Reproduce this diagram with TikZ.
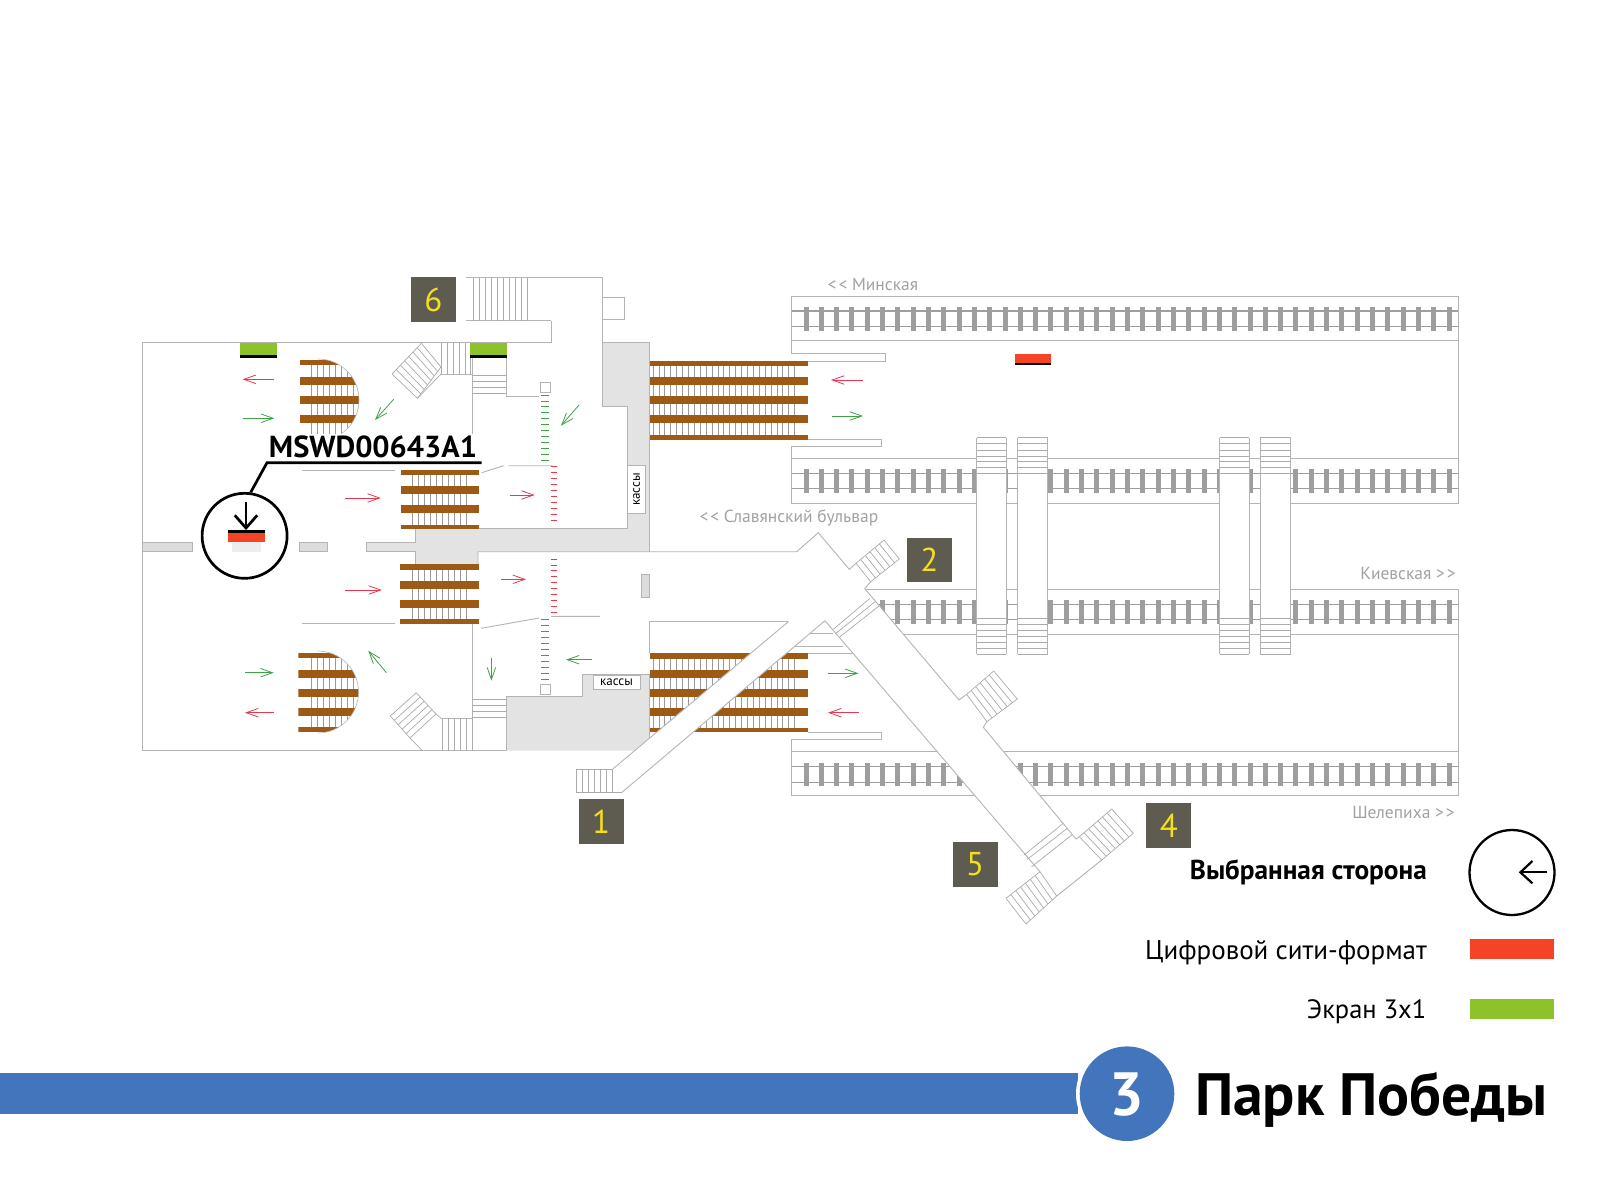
\documentclass[tikz,border=0pt]{standalone}
\usepackage{fontspec}
\setmainfont{PT Sans}
\usetikzlibrary{arrows.meta,calc}
\definecolor{wallc}{HTML}{B4B4B4}
\definecolor{stepc}{HTML}{ABABAB}
\definecolor{greyfill}{HTML}{E3E3E3}
\definecolor{blockc}{HTML}{DCDCDC}
\definecolor{railc}{HTML}{9E9E9E}
\definecolor{brownc}{HTML}{9C5A14}
\definecolor{boxc}{HTML}{5E5C50}
\definecolor{digitc}{HTML}{F4DF1E}
\definecolor{redc}{HTML}{F44327}
\definecolor{greenc}{HTML}{8DC22A}
\definecolor{arrred}{HTML}{E8384F}
\definecolor{arrgreen}{HTML}{3FA24A}
\definecolor{linec}{HTML}{4375BC}
\definecolor{labelc}{HTML}{A2A2A2}
\newcommand{\fsz}[1]{\fontsize{#1pt}{#1pt}\selectfont}
\newcommand{\lla}{<\kern2pt<}
\newcommand{\rra}{>\kern2pt>}
\tikzset{
  wall/.style={draw=wallc,line width=0.9pt},
  stepline/.style={draw=stepc,line width=0.7pt},
  tie/.style={fill=railc,draw=none},
  rail/.style={draw=railc,line width=1.3pt},
  brownbar/.style={fill=brownc,draw=none},
  redarr/.style={draw=arrred,line width=0.8pt,-{Straight Barb[length=12pt,width=8.5pt,line width=0.8pt]}},
  greenarr/.style={draw=arrgreen,line width=0.8pt,-{Straight Barb[length=12pt,width=8.5pt,line width=0.8pt]}},
  exitbox/.style={fill=boxc,draw=none,minimum width=45pt,minimum height=44.5pt,inner sep=0pt,text=digitc,font=\fsz{33}},
  graylabel/.style={text=labelc,inner sep=0pt,font=\fsz{17.5}},
  blackline/.style={draw=black,line width=2.7pt},
  cashbox/.style={fill=white,draw=wallc,line width=0.7pt,inner sep=0pt,font=\fsz{13}},
}
% bars: x1,x2,vx1,vx2,spacing, list of y1/y2 ; verticals y-range
\newcommand{\escal}[8]{%
  \foreach \vx in {#3,#5,...,#4} \draw[stepline,draw=stepc!90!black] (\vx,#6) -- (\vx,#7);
  \foreach \ya/\yb in {#8} \fill[brownbar] (#1,\ya) rectangle (#2,\yb);
}
\newcommand{\track}[1]{%
  \pgfmathsetmacro{\ra}{#1+15}\pgfmathsetmacro{\rb}{#1+30.5}%
  \pgfmathsetmacro{\sa}{#1+11}\pgfmathsetmacro{\sb}{#1+34.5}%
  \foreach \k in {0,...,42} {
    \pgfmathsetmacro{\xa}{806+15.31*\k-2.5}\pgfmathsetmacro{\xb}{\xa+5}
    \fill[tie] (\xa,\sa) rectangle (\xb,\sb);
  }
  \draw[rail] (792,\ra) -- (1458,\ra) (792,\rb) -- (1458,\rb);
}
% quadrilateral stair: lines from side A-B to side D-C
\newcommand{\qstair}[5]{%
  \foreach \i in {0,...,#5} {
    \pgfmathsetmacro{\t}{\i/#5}
    \draw[stepline] ($#1!\t!#2$) -- ($#4!\t!#3$);
  }
  \draw[stepline] #1 -- #2 #4 -- #3;
}
\newcommand{\bridge}[2]{%
  \fill[white] (#1,437.7) rectangle (#2,654.3);
  \draw[wall,line width=0.8pt] (#1,437.7) -- (#1,654.3) (#2,437.7) -- (#2,654.3);
  \foreach \y in {437.7,443.7,450,456.7,461.7,467.3,473.3,618.3,624.3,630,636.7,642.3,648.3,654.3}
    \draw[stepline] (#1,\y) -- (#2,\y);
}
\begin{document}
\begin{tikzpicture}[x=1pt,y=-1pt]
\useasboundingbox (0,0) rectangle (1600,1200);
\fill[white] (0,0) rectangle (1600,1200);

% ---- tracks
\track{296}
\track{458.3}
\track{589.3}
\fill[white] (785,585) rectangle (864,640);
\track{751.7}
\draw[wall] (806,361) -- (885.2,361) -- (885.2,353.3) -- (791.6,353.3) -- (791.6,296) -- (1458,296) -- (1458,503.3) -- (791.6,503.3) -- (791.6,446.7) -- (881.9,446.7) -- (881.9,439.3) -- (806,439.3);
\draw[wall] (791.6,340.3) -- (1458,340.3) (791.6,458.3) -- (1458,458.3);
\draw[wall] (865,589.3) -- (1458,589.3) -- (1458,795.7) -- (791.7,795.7) -- (791.7,739.3) -- (881.7,739.3) -- (881.7,732.3) -- (808,732.3);
\draw[wall] (865,634) -- (1458,634) (791.7,751.7) -- (1458,751.7);

% ---- bridges over tracks
\bridge{976.5}{1006.4}
\bridge{1017.8}{1047.8}
\bridge{1219.5}{1249.2}
\bridge{1260.4}{1290.5}

% ---- grey floor
\fill[greyfill] (602.6,342.7) -- (649.6,342.7) -- (649.6,551.7) -- (478,551.7) -- (478,565) -- (415,565) -- (415,551.7) -- (366.6,551.7) -- (366.6,542.3) -- (415,542.3) -- (415,528.3) -- (627,528.3) -- (627,406.7) -- (602.6,406.7) -- cycle;
\fill[greyfill] (506,696.7) -- (582,696.7) -- (582,674) -- (649.6,674) -- (649.6,738) -- (633.7,750.7) -- (506,750.7) -- cycle;
\draw[wall] (602.6,342.7) -- (649.6,342.7) -- (649.6,551.7);
\draw[wall] (366.6,551.7) -- (415,551.7) -- (415,565);
\draw[wall] (366.6,551.7) -- (366.6,542.3) -- (415,542.3) -- (415,528.3) -- (627,528.3) -- (627,406.7) -- (602.6,406.7);
\draw[wall] (478,565) -- (478,551.7) -- (796.7,551.7) -- (818.3,532.7) -- (849.3,569.3) -- (856,563.3);
\draw[wall] (870.7,581.7) -- (865,588.3);

% ---- station walls
\draw[wall] (551,320.7) -- (466,320.7);
\draw[wall] (466,277.7) -- (602.6,277.7) -- (602.6,406.7);
\draw[wall] (142,751) -- (142,342.7) -- (551,342.7) -- (551,320.7);
\draw[wall] (142,750.7) -- (506,750.7) -- (506,696.7) -- (582,696.7) -- (582,674) -- (649.6,674) -- (649.6,738);
\draw[wall] (602.6,297) rectangle (624.6,319.3);
\draw[wall] (472,357) -- (472,458);
\draw[wall] (472,624) -- (472,750.7);
\draw[wall] (506,357) -- (506,396) -- (539,396);
\draw[wall] (441,374) -- (472,374);
\draw[wall] (441,718.3) -- (472,718.3);
\draw[wall] (649.3,653) -- (649.3,621.7) -- (788.3,621.7);
\draw[wall] (301.7,470) -- (395.4,470) (301.7,623.7) -- (395.4,623.7);
\draw[wall] (481.6,472.7) -- (503.6,465.7) (508.6,465.7) -- (552.6,465.7);
\draw[wall] (481,628.3) -- (539,618) (551,616.3) -- (600,616.3);
% blocks
\foreach \xa/\xb in {142/192.5,299.7/327.8} \draw[wall,fill=blockc] (\xa,542.3) rectangle (\xb,551.7);
\draw[wall,fill=blockc] (641.8,574) rectangle (649.6,597.7);

% ---- platform lines under the junction
\draw[wall] (810,633.3) -- (833.3,633.3) (795,646.7) -- (843,646.7) (808,653.3) -- (852.7,653.3);

% ---- escalators
\escal{649.6}{808}{653}{796}{658.9}{361}{440}{361/366,376.7/384.7,396/404,415.3/423.3,435/440}
\escal{649.6}{808.3}{653}{797}{658.9}{654}{732}{653.3/658.7,670/678,689.3/696.7,708.3/716,727.7/732.3}
\escal{401}{478.5}{412}{466.4}{418}{470}{529}{470/474.7,486/494,505.3/513.3,524.7/529.3}
\escal{400.4}{478.5}{412}{466.4}{418}{565}{624}{564.3/569.7,580.7/589,600/608,619.3/624.3}

% semicircular escalators
\begin{scope}
\clip (318,359) arc[start angle=90,end angle=-90,radius=41pt] -- (300,441) -- (300,359) -- cycle;
\escal{300}{360}{311}{359}{317}{360}{440}{360/365.3,376.7/384.7,396/404,415.3/423.3,434/439}
\end{scope}
\draw[wall,line width=0.6pt] (318,359) arc[start angle=90,end angle=-90,radius=41pt];
\begin{scope}
\clip (317.5,651) arc[start angle=90,end angle=-90,radius=41pt] -- (298.4,733) -- (298.4,651) -- cycle;
\escal{298.4}{360}{311}{359}{317}{654}{732}{653.3/658.3,670/677.7,688.7/696.7,708/716,727.3/732}
\end{scope}
\draw[wall,line width=0.6pt] (317.5,651) arc[start angle=90,end angle=-90,radius=41pt];

% ---- stairs (orthogonal)
\foreach \x in {473,479,485,491,497,503,509,515,521,527} \draw[stepline] (\x,277.7) -- (\x,320.7);
\foreach \x in {441,447,453,459,465,470} \draw[stepline] (\x,343) -- (\x,374);
\foreach \x in {442,448,454,460,466,472} \draw[stepline] (\x,718.3) -- (\x,750.7);
\foreach \y in {375,381,387,393.3} \draw[stepline] (472,\y) -- (506,\y);
\foreach \y in {699.3,705,711.7,717.3} \draw[stepline] (472,\y) -- (506,\y);
\draw[wall] (506,696.7) -- (506,750.7);

% diagonal stairs by the west hall
\qstair{(392,374)}{(421.4,343.3)}{(441,367)}{(417.4,398.3)}{7}
\draw[stepline] (417.4,398.3) -- (441,374);
\qstair{(390.3,716)}{(410,738)}{(436,714)}{(416.3,692.7)}{5}
\draw[stepline] (410,738) -- (422.4,750.7) (436,714) -- (441,718.3);

% ---- diagonal corridors
\fill[white] (612.8,769) -- (788.3,621.7) -- (825,620.7) -- (622,792.3) -- cycle;
\draw[wall] (612.8,769) -- (788.3,621.7) (825,620.7) -- (622,792.3);
\foreach \x in {576,582,588,594,600,606,612.8} \draw[stepline] (\x,769) -- (\x,792.3);
\draw[stepline] (576,769) -- (612.8,769) (576,792.3) -- (622,792.3);

\fill[white] (864.5,588.3) -- (959,700) -- (966.6,694.3) -- (987,721.7) -- (983.3,727.3) -- (1076,839) -- (1079.3,836.7) -- (1101.7,860) -- (1056.7,896) -- (1040,871.7) -- (825,620.7) -- cycle;
\draw[wall] (825,620.7) -- (1040,871.7);
\draw[wall] (864.5,588.3) -- (959,700) -- (966.6,694.3);
\draw[wall] (987,721.7) -- (983.3,727.3) -- (1076,839) -- (1079.3,836.7);
\draw[wall] (1101.7,860) -- (1056.7,896);
\draw[stepline] (870,598.3) -- (833.3,629.3) (875,601.7) -- (836,633.3) (879,606) -- (840,636.7);
\draw[stepline] (1024,855) -- (1063.3,823.3) (1027.3,859.3) -- (1067.3,828.3) (1031.7,866.7) -- (1071.7,835);
\qstair{(856,563.3)}{(884,540)}{(899.3,559)}{(870.7,581.7)}{6}
\qstair{(966.6,694.3)}{(993.7,671)}{(1017.3,699)}{(987,721.7)}{6}
\qstair{(1079.3,836.7)}{(1111.7,809)}{(1133.3,833.3)}{(1101.7,860)}{7}
\qstair{(1040,871.7)}{(1006,898.3)}{(1026,924)}{(1056.7,896)}{7}

% ---- dashes (turnstiles) and squares
\foreach \i in {0,...,11} \draw[arrgreen,line width=0.8pt] (541,395+\i*5.9) -- (549,395+\i*5.9);
\foreach \i in {0,...,9} \draw[arrred,line width=0.8pt] (550.5,466.7+\i*6) -- (557.3,466.7+\i*6);
\foreach \i in {0,...,9} \draw[arrred,line width=0.8pt] (550.5,559+\i*5.92) -- (557.3,559+\i*5.92);
\foreach \i in {0,...,10} \draw[arrgreen,line width=0.8pt] (541,619.3+\i*5.97) -- (549,619.3+\i*5.97);
\draw[wall] (540.4,382) rectangle (550,392) (540.4,684.3) rectangle (550,694);

% ---- ads
\foreach \xa in {239.9,470} {
  \fill[greenc] (\xa,343.3) rectangle (\xa+37,355);
  \fill[black] (\xa,355) rectangle (\xa+37,357.7);
}
\fill[redc] (1014.7,354) rectangle (1051.2,362.7);
\fill[black] (1014.7,362.7) rectangle (1051.2,365.3);

% ---- walking arrows
\draw[redarr] (274.4,379.3) -- (242.6,379.3);
\draw[greenarr] (242.6,418.3) -- (274.4,418.3);
\draw[greenarr] (393.7,399.3) -- (375,420);
\draw[greenarr] (579,405) -- (561,425.7);
\draw[redarr] (344.7,498) -- (380.8,498);
\draw[redarr] (510.3,495) -- (534.7,495);
\draw[greenarr] (245,672.7) -- (273.7,672.7);
\draw[redarr] (273.7,712.7) -- (245,712.7);
\draw[redarr] (344.7,590) -- (381.9,590);
\draw[redarr] (501,579.3) -- (526,579.3);
\draw[greenarr] (386.3,672.7) -- (368.3,650.7);
\draw[greenarr] (491.4,658.3) -- (491.4,680.7);
\draw[greenarr] (592,659.7) -- (566,659.7);
\draw[redarr] (863,380) -- (831,380);
\draw[greenarr] (832,416) -- (863,416);
\draw[greenarr] (828,673.3) -- (858.5,673.3);
\draw[redarr] (858.5,712.7) -- (828,712.7);

% ---- kassy
\node[cashbox,minimum width=47.6pt,minimum height=18pt,rotate=90] (kassa1) at (636.6,489.5) {кассы};
\node[cashbox,minimum width=47pt,minimum height=14.3pt] (kassa2) at (616.5,682) {кассы};

% ---- selected side marker
\node[fill=white,inner sep=0pt,minimum width=206pt,minimum height=26pt,text=black,font=\bfseries\fsz{30.4}] (code) at (373,446.5) {MSWD00643A1};
\draw[blackline] (481.6,462.7) -- (267,462.7) -- (250.7,492.3);
\coordinate (mk) at (244.6,535.8);
\draw[blackline] (mk) circle[radius=42.5pt];
\fill[black] (228,530) rectangle (264.5,532.7);
\fill[redc] (228,532.7) rectangle (264.5,541.7);
\fill[black!7] (232.4,541.7) rectangle (260.5,551.7);
\draw[blackline] (246,501.7) -- (246,528);
\draw[blackline] (234.8,515.3) -- (246,528) -- (257.2,515.3);

% ---- exits
\node[exitbox] (e6) at (433.3,299.6) {6};
\node[exitbox] (e2) at (929.3,560.1) {2};
\node[exitbox] (e1) at (601.1,821.6) {1};
\node[exitbox] (e5) at (975.2,864.5) {5};
\node[exitbox] (e4) at (1168.9,825.3) {4};

% ---- direction labels
\node[graylabel,anchor=west] (minsk) at (827.5,284.5) {\lla{} Минская};
\node[graylabel,anchor=west] (slav) at (699.3,518.3) {\lla{} Славянский бульвар};
\node[graylabel,anchor=east] (kiev) at (1456,573.5) {Киевская \rra};
\node[graylabel,anchor=east] (shel) at (1455,812) {Шелепиха \rra};

% ---- legend
\node[anchor=east,inner sep=0pt,font=\bfseries\fsz{27.3}] (leg1) at (1427,872) {Выбранная сторона};
\node[anchor=east,inner sep=0pt,font=\fsz{27}] (leg2) at (1427,953) {Цифровой сити-формат};
\node[anchor=east,inner sep=0pt,font=\fsz{26.5}] (leg3) at (1426.5,1012) {Экран 3х1};
\coordinate (lc) at (1512,872.5);
\draw[black,line width=2.3pt] (lc) circle[radius=42.5pt];
\draw[black,line width=2.2pt] (1547.3,872.3) -- (1520.4,872.3);
\draw[black,line width=2.2pt] (1532.4,861) -- (1520.4,872.3) -- (1532.4,883.3);
\fill[redc] (1469.8,939.3) rectangle (1553.5,959.3);
\fill[greenc] (1469.8,999) rectangle (1553.5,1019);

% ---- line bar
\fill[linec] (0,1072.7) rectangle (1078,1114.3);
\fill[white] (1127,1093.7) circle[radius=51pt];
\fill[linec] (1127,1093.7) circle[radius=47.3pt];
\node[text=white,inner sep=0pt,font=\bfseries\fsz{61}] (num) at (1127,1095) {3};
\node[anchor=west,inner sep=0pt,font=\bfseries\fsz{59.7}] (title) at (1195,1100) {Парк Победы};
\end{tikzpicture}
\end{document}
